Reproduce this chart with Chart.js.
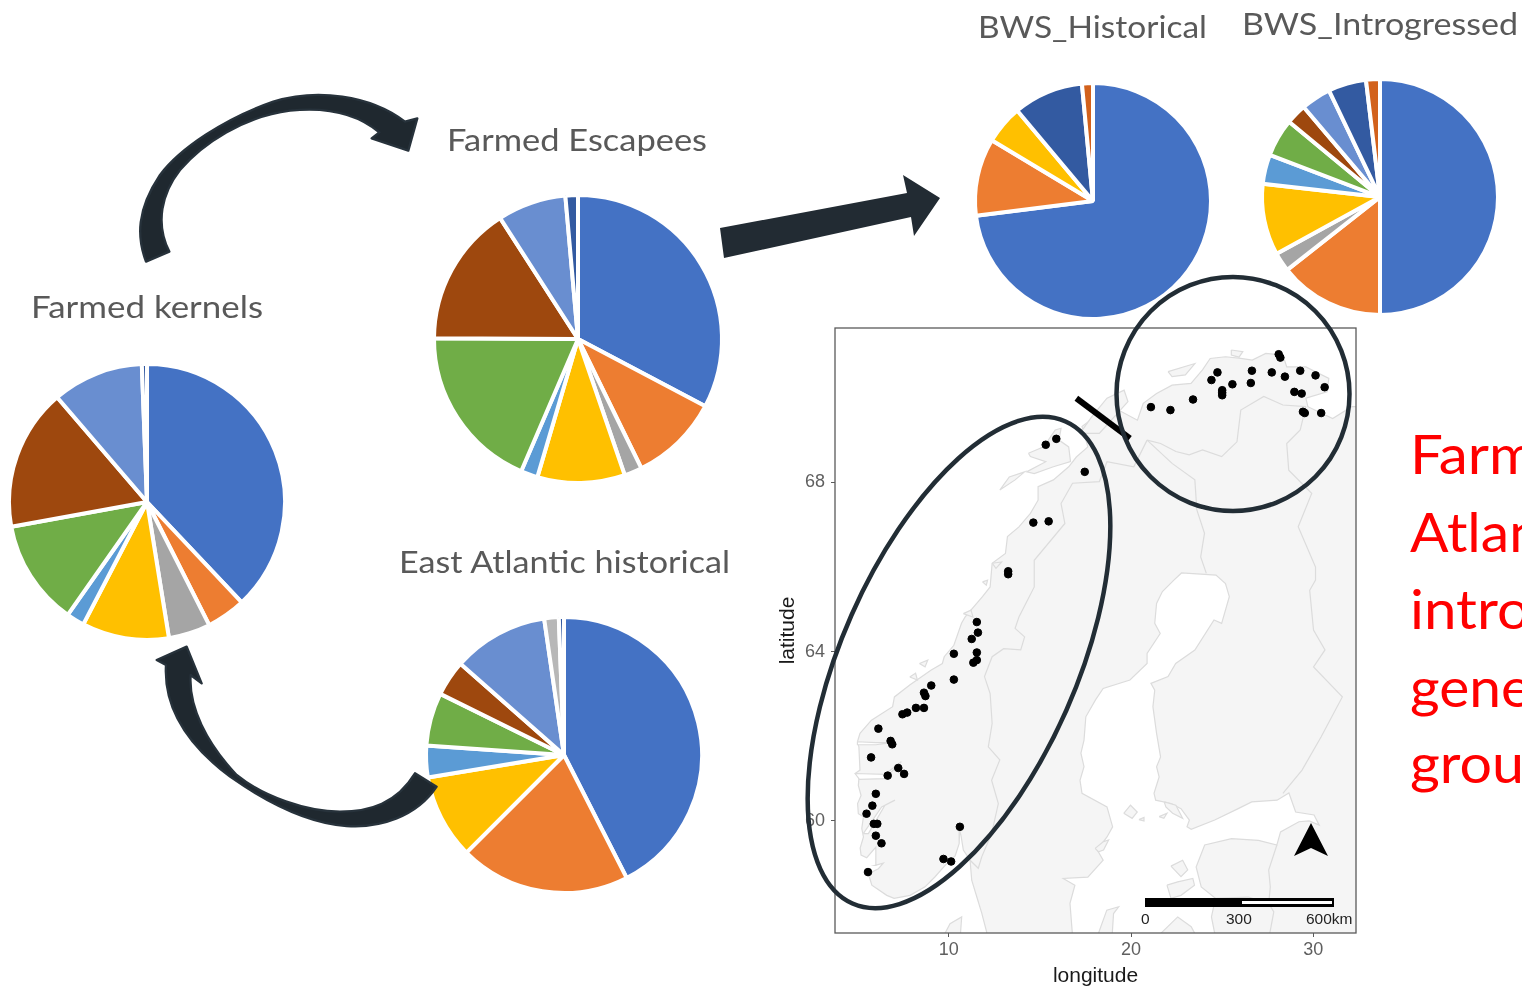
<!DOCTYPE html>
<html>
<head>
<meta charset="utf-8">
<title>Farmed and wild salmon ancestry</title>
<script src="https://cdn.jsdelivr.net/npm/chart.js@4"></script>
<style>
  html, body { margin: 0; padding: 0; width: 1522px; height: 989px; overflow: hidden; background: #fff; }
  canvas { position: absolute; }
  #notes { position: absolute; left: 0; top: 0; }
  #notes text.title { font-family: Lato, sans-serif; font-size: 31px; fill: #595959; }
  #notes text.red { font-family: Lato, sans-serif; font-size: 55px; fill: #ff0000; }
  #notes text.scale { font-family: "Liberation Sans", sans-serif; font-size: 15.5px; fill: #222; }
</style>
</head>
<body>
<canvas id="kernels"></canvas>
<canvas id="escapees"></canvas>
<canvas id="eastAtlantic"></canvas>
<canvas id="bwsHistorical"></canvas>
<canvas id="bwsIntrogressed"></canvas>
<canvas id="map" width="600" height="669" style="left:770px;top:320px"></canvas>

<svg id="notes" width="1522" height="989" xmlns="http://www.w3.org/2000/svg">
  <text class="title" x="31" y="318" textLength="232" lengthAdjust="spacingAndGlyphs">Farmed kernels</text>
  <text class="title" x="447" y="151" textLength="260" lengthAdjust="spacingAndGlyphs">Farmed Escapees</text>
  <text class="title" x="399" y="573" textLength="331" lengthAdjust="spacingAndGlyphs">East Atlantic historical</text>
  <text class="title" x="978" y="38" textLength="229" lengthAdjust="spacingAndGlyphs">BWS_Historical</text>
  <text class="title" x="1242" y="35" textLength="276" lengthAdjust="spacingAndGlyphs">BWS_Introgressed</text>

  <text class="red" x="1410" y="474" textLength="127" lengthAdjust="spacingAndGlyphs">Farm</text>
  <text class="red" x="1410" y="552" textLength="131" lengthAdjust="spacingAndGlyphs">Atlan</text>
  <text class="red" x="1410" y="629" textLength="120" lengthAdjust="spacingAndGlyphs">intro</text>
  <text class="red" x="1410" y="707" textLength="121" lengthAdjust="spacingAndGlyphs">gene</text>
  <text class="red" x="1410" y="783" textLength="114" lengthAdjust="spacingAndGlyphs">grou</text>

  <!-- arrows -->
  <polygon points="720,228 907,193 903,175 940,198 914,236 911,217 724,258" fill="#222b33"/>
  <g transform="translate(130,80) scale(0.3333)" fill="#1f282f" stroke="#27323b" stroke-width="7" stroke-linejoin="round">
    <path d="M48,545 C20,470 20,390 90,285 C150,205 285,115 430,65 C560,25 720,45 825,125 L862,115 L835,212 L725,175 L748,157 C680,100 590,80 480,92 C340,110 220,190 150,270 C95,340 75,430 118,515 Z"/>
  </g>
  <g transform="translate(150,640) scale(0.3333)" fill="#1f282f" stroke="#27323b" stroke-width="7" stroke-linejoin="round">
    <path d="M20,60 L110,20 L155,130 L122,105 C115,200 170,310 260,405 C340,470 470,515 570,515 C660,515 740,490 795,400 L860,440 C800,530 690,565 590,558 C470,550 340,480 240,410 C120,320 40,210 48,75 Z"/>
  </g>

  <!-- groupings on the map -->
  <ellipse cx="959" cy="662.5" rx="117.5" ry="263.5" transform="rotate(23.85 959 662.5)" fill="none" stroke="#222d35" stroke-width="4.5"/>
  <ellipse cx="1233" cy="394" rx="116.5" ry="117" fill="none" stroke="#222d35" stroke-width="4.5"/>

  <!-- scale bar and north arrow -->
  <rect x="1145" y="898" width="189" height="9" fill="#000"/>
  <rect x="1242" y="901" width="90" height="3" fill="#fff"/>
  <text class="scale" x="1141" y="924">0</text>
  <text class="scale" x="1226" y="924">300</text>
  <text class="scale" x="1306" y="924">600km</text>
  <polygon points="1311,823 1294,856 1311,848 1328,856" fill="#000"/>
</svg>

<script>
const ancestryGroups = ['K1', 'K2', 'K3', 'K4', 'K5', 'K6', 'K7', 'K8', 'K9', 'K10', 'K11'];
const groupColors = ['#4472c4', '#ed7d31', '#a5a5a5', '#ffc000', '#5b9bd5', '#70ad47', '#9e480e', '#698ed0', '#b7b7b7', '#335aa1', '#d2611c'];

const kernelsValues = [38.0, 4.6, 4.9, 10.2, 2.1, 12.4, 16.6, 10.7, 0, 0.6, 0];
const escapeesValues = [32.7, 10.0, 2.0, 9.8, 1.9, 18.6, 15.8, 7.7, 0, 1.4, 0];
const eastAtlanticValues = [42.5, 20.0, 0, 9.9, 3.7, 6.2, 4.2, 11.2, 1.7, 0.6, 0];
const bwsHistoricalValues = [73.0, 10.6, 0, 5.3, 0, 0, 0, 0, 0, 9.6, 1.5];
const bwsIntrogressedValues = [50.0, 14.4, 2.6, 9.8, 4.0, 5.2, 2.8, 4.1, 0, 5.2, 1.9];

// sampled rivers, longitude and latitude
const riverLon = [21.09, 22.16, 23.40, 24.41, 24.74, 25.00, 25.00, 25.00, 25.56, 26.57, 26.63, 27.72, 28.10, 28.19, 28.44, 29.28, 30.12, 30.62, 28.96, 29.36, 29.43, 29.53, 30.43,
  15.90, 15.32, 17.46, 14.64, 15.48, 13.26, 13.26, 11.54, 11.60, 11.26, 10.28, 11.54, 11.54, 11.35, 10.28, 9.04, 8.64, 8.72, 8.20, 8.64, 7.72, 7.46, 6.14, 6.81, 6.90, 5.74, 7.23, 7.55, 6.65, 6.00, 5.81, 5.49, 5.89, 6.08, 6.00, 6.31, 10.61, 9.71, 10.13, 5.57];
const riverLat = [69.78, 69.71, 69.96, 70.42, 70.60, 70.18, 70.12, 70.06, 70.32, 70.35, 70.64, 70.60, 71.03, 70.95, 70.50, 70.64, 70.53, 70.25, 70.14, 70.10, 69.67, 69.64, 69.64,
  69.03, 68.89, 68.25, 67.05, 67.08, 65.90, 65.83, 64.70, 64.45, 64.30, 63.95, 63.98, 63.80, 63.74, 63.34, 63.20, 63.03, 62.95, 62.67, 62.67, 62.56, 62.52, 62.18, 61.89, 61.81, 61.50, 61.25, 61.11, 61.07, 60.64, 60.36, 60.17, 59.93, 59.93, 59.65, 59.47, 59.86, 59.10, 59.04, 58.79];

const lonTicks = [10, 20, 30];
const latTicks = [60, 64, 68];

// outlines as [longitude, latitude]
const mainland = [
  [12.08, 57.2], [12.08, 57.37], [11.81, 57.82], [11.54, 58.20], [11.26, 58.60], [11.17, 59.07], [10.80, 59.31], [10.67, 59.66], [10.60, 59.78], [10.57, 59.46], [10.35, 59.17],
  [9.80, 58.95], [9.25, 58.68], [8.70, 58.44], [7.88, 58.24], [7.0, 58.17], [6.6, 58.24], [5.78, 58.48], [5.59, 58.75], [6.14, 58.87], [6.41, 59.0], [5.96, 58.95], [6.0, 59.38],
  [5.5, 59.13], [5.19, 59.19], [5.14, 59.36], [5.32, 59.62], [5.23, 59.82], [5.32, 60.1], [5.04, 60.17], [5.0, 60.41], [5.19, 60.6], [5.04, 60.84], [5.08, 61.04], [4.86, 61.12],
  [5.13, 61.2], [5.07, 61.75], [4.99, 61.87], [5.13, 62.07], [5.76, 62.38], [6.92, 62.70], [7.02, 62.93], [7.86, 63.21], [9.02, 63.56], [9.65, 63.72], [9.75, 63.88], [10.28, 64.15],
  [10.7, 64.67], [10.9, 64.82], [11.85, 65.3], [12.27, 65.53], [12.38, 66.09], [13.11, 66.32], [13.22, 66.72], [13.85, 66.95], [14.48, 67.27], [14.9, 67.58], [14.9, 67.9],
  [15.74, 68.06], [16.58, 68.37], [17.0, 68.6], [17.63, 68.84], [17.31, 69.32], [18.26, 69.63], [19.31, 69.71], [20.35, 69.47], [20.67, 69.87], [21.4, 70.1], [22.25, 70.3],
  [23.29, 70.34], [23.92, 70.66], [24.34, 70.93], [25.18, 70.97], [26.02, 70.93], [26.65, 70.89], [27.39, 71.05], [28.33, 71.01], [28.54, 70.73], [29.59, 70.73], [30.85, 70.46],
  [30.75, 70.14], [29.59, 69.99], [29.7, 69.79], [31.06, 69.51], [32.1, 69.79], [33.5, 69.8], [33.5, 57.2], [24.59, 57.2], [24.59, 57.34], [24.41, 57.73], [24.63, 58.17], [23.85, 58.44],
  [23.57, 58.91], [24.04, 59.43], [25.51, 59.58], [26.99, 59.54], [28.0, 59.43], [28.2, 59.74], [29.21, 59.98], [29.77, 60.0], [30.32, 59.9], [30.04, 60.14], [29.03, 60.21],
  [28.66, 60.66], [28.01, 60.49], [26.62, 60.45], [25.88, 60.29], [24.59, 60.02], [23.3, 59.8], [23.07, 59.86], [23.2, 60.02], [22.74, 60.29], [22.19, 60.41], [21.35, 60.49],
  [21.26, 60.65], [21.54, 61.04], [21.4, 61.28], [21.62, 61.51], [21.4, 62.07], [21.2, 62.7], [21.3, 63.09], [21.09, 63.25], [22.03, 63.41], [22.45, 63.72], [23.5, 64.04],
  [24.55, 64.75], [24.97, 64.67], [25.39, 65.3], [25.18, 65.61], [24.66, 65.81], [22.77, 65.86], [22.35, 65.69], [21.72, 65.42], [21.4, 65.14], [21.3, 64.67], [21.6, 64.43],
  [20.88, 63.96], [20.88, 63.72], [19.94, 63.33], [18.47, 63.13], [18.05, 62.86], [17.52, 62.46], [17.42, 61.91], [17.25, 61.6], [17.42, 61.28], [17.2, 60.96], [17.31, 60.65],
  [18.68, 60.33], [18.99, 59.86], [18.68, 59.62], [18.15, 59.31], [18.47, 59.07], [17.63, 58.67], [16.28, 58.64], [16.92, 58.48], [16.65, 58.05], [16.78, 57.34], [16.78, 57.2]
];
const islands = [
  [[22.19, 58.93], [22.83, 59.07], [23.11, 58.84], [22.74, 58.68]],
  [[21.97, 58.48], [22.56, 58.56], [23.39, 58.64], [23.48, 58.48], [22.74, 58.24], [22.19, 58.17]],
  [[19.6, 60.18], [19.97, 60.37], [20.34, 60.21], [20.06, 60.06]],
  [[20.43, 60.03], [20.71, 60.08], [20.71, 60.0]],
  [[21.54, 60.1], [21.97, 60.18], [21.8, 60.06]],
  [[21.82, 60.45], [22.46, 60.37], [22.83, 60.06], [22.28, 60.18], [21.91, 60.33]],
  [[18.21, 57.2], [18.21, 57.34], [18.67, 57.89], [19.32, 57.97], [19.04, 57.81], [18.95, 57.2]],
  [[18.03, 59.35], [18.49, 59.51], [18.77, 59.55], [18.49, 59.31], [18.21, 59.27]],
  [[21.63, 57.2], [21.63, 57.34], [22.56, 57.73], [23.3, 57.5], [23.67, 57.2]],
  [[9.79, 57.2], [9.79, 57.34], [10.07, 57.57], [10.71, 57.73], [10.62, 57.2]],
  [[12.8, 67.82], [13.32, 68.13], [14.16, 68.25], [13.64, 68.06]],
  [[14.37, 68.69], [15.21, 68.84], [15.84, 69.24], [16.16, 69.28], [16.05, 69.0], [16.58, 68.84], [16.68, 68.49], [15.74, 68.37], [14.69, 68.21], [14.27, 68.25], [15.32, 68.49], [14.48, 68.61]],
  [[17.2, 69.16], [17.84, 69.55], [18.68, 69.99], [19.62, 70.18], [19.83, 69.91], [18.26, 69.16]],
  [[22.03, 70.62], [23.5, 70.81], [22.98, 70.54], [22.25, 70.5]],
  [[25.5, 71.13], [26.13, 71.09], [25.92, 70.96], [25.5, 71.01]],
  [[7.86, 63.4], [8.18, 63.49], [8.28, 63.33]],
  [[8.39, 63.72], [8.85, 63.8], [8.7, 63.64]],
  [[11.85, 65.65], [12.13, 65.69], [12.06, 65.57]],
  [[10.8, 64.9], [11.22, 64.98], [11.33, 64.82]],
  [[12.38, 66.09], [12.9, 66.12], [12.59, 65.97]]
];
const fjords = [
  [[4.86, 61.12], [6.5, 61.1], [7.4, 61.4], [6.5, 61.0], [5.1, 60.98]],
  [[4.99, 61.87], [6.0, 61.85], [6.9, 61.85], [6.0, 61.8], [5.0, 61.8]],
  [[5.31, 59.7], [6.32, 60.33], [7.05, 60.49], [6.5, 60.37], [5.59, 59.7]]
];
const borders = [
  [[20.88, 69.0], [20.15, 68.37], [18.68, 68.49], [18.26, 68.02], [16.79, 67.98], [16.16, 67.5], [16.37, 67.03], [14.69, 66.16], [14.69, 65.53], [13.85, 64.82], [13.64, 64.55], [14.16, 64.35],
    [13.95, 64.04], [13.01, 64.07], [12.38, 63.88], [11.96, 63.41], [12.27, 63.01], [12.38, 62.3], [12.17, 61.75], [12.8, 61.44], [12.35, 60.96], [12.72, 60.41], [12.35, 59.7], [11.81, 59.15], [11.62, 58.88], [11.17, 59.07]],
  [[20.88, 69.0], [21.62, 68.92], [22.46, 68.73], [23.19, 68.65], [23.92, 68.77], [24.97, 68.61], [25.81, 68.96], [26.02, 69.71], [27.28, 70.03], [28.33, 69.83], [29.59, 69.79]],
  [[20.88, 69.0], [22.25, 68.45], [23.5, 68.06], [23.61, 67.35], [24.03, 66.8], [23.82, 66.24], [24.13, 65.85]],
  [[29.59, 69.79], [29.28, 69.24], [28.54, 68.92], [28.65, 68.29], [29.91, 67.74], [29.17, 66.95], [30.12, 66.0], [30.12, 65.69], [29.8, 65.45], [30.01, 64.51], [30.64, 64.04], [30.01, 63.64], [31.59, 62.93], [30.43, 61.99], [29.38, 61.2], [28.33, 60.65]],
  [[28.0, 59.43], [27.55, 58.84], [27.64, 58.44], [27.55, 58.05], [27.83, 57.85], [27.55, 57.2]],
  [[24.63, 58.17], [26.44, 58.2], [27.55, 58.05]]
];
const divideLine = [[17.0, 69.99], [19.94, 69.04]];

function makePie(id, values, cx, cy, radius) {
    const canvas = document.getElementById(id);
    const size = (radius + 6) * 2;
    canvas.width = size;
    canvas.height = size;
    canvas.style.left = (cx - size / 2) + 'px';
    canvas.style.top = (cy - size / 2) + 'px';
    new Chart(canvas, {
        type: 'pie',
        data: {
            labels: ancestryGroups,
            datasets: [{ data: values, backgroundColor: groupColors, borderColor: '#ffffff', borderWidth: 4 }]
        },
        options: {
            responsive: false,
            animation: false,
            radius: radius,
            plugins: { legend: { display: false }, tooltip: { enabled: false } }
        }
    });
}

makePie('kernels', kernelsValues, 147, 502, 138);
makePie('escapees', escapeesValues, 578, 339, 144);
makePie('eastAtlantic', eastAtlanticValues, 564, 755, 138);
makePie('bwsHistorical', bwsHistoricalValues, 1093, 201, 118);
makePie('bwsIntrogressed', bwsIntrogressedValues, 1380, 197, 118);

const toXY = pts => pts.map(p => ({ x: p[0], y: p[1] }));

function landSet(pts, fillColor, order) {
    return {
        data: toXY(pts.concat([pts[0]])),
        showLine: true,
        fill: 'shape',
        backgroundColor: fillColor,
        borderColor: '#dcdcdc',
        borderWidth: 1.2,
        pointRadius: 0,
        tension: 0,
        order: order
    };
}

const mapSets = [
    {
        data: riverLon.map((lon, i) => ({ x: lon, y: riverLat[i] })),
        backgroundColor: '#000000',
        borderColor: '#000000',
        pointRadius: 3.8,
        order: 0
    },
    { data: toXY(divideLine), showLine: true, borderColor: '#000000', borderWidth: 6, pointRadius: 0, order: 1 },
    landSet(mainland, '#f5f5f5', 6)
];
islands.forEach(i => mapSets.push(landSet(i, '#f5f5f5', 5)));
fjords.forEach(f => mapSets.push(landSet(f, '#ffffff', 4)));
borders.forEach(b => mapSets.push({ data: toXY(b), showLine: true, borderColor: '#dcdcdc', borderWidth: 1.2, pointRadius: 0, order: 3 }));

// panel border on all four sides
const panelBorder = {
    id: 'panelBorder',
    afterDraw(chart) {
        const { ctx, chartArea: a } = chart;
        ctx.save();
        ctx.strokeStyle = '#5a5a5a';
        ctx.lineWidth = 1.3;
        ctx.strokeRect(a.left, a.top, a.right - a.left, a.bottom - a.top);
        ctx.restore();
    }
};

new Chart(document.getElementById('map'), {
    type: 'scatter',
    data: { datasets: mapSets },
    plugins: [panelBorder],
    options: {
        responsive: false,
        animation: false,
        layout: { autoPadding: false, padding: { top: 8, right: 14, left: 0, bottom: 0 } },
        plugins: { legend: { display: false }, tooltip: { enabled: false } },
        scales: {
            x: {
                min: 3.76,
                max: 32.34,
                afterBuildTicks: axis => { axis.ticks = lonTicks.map(v => ({ value: v })); },
                afterFit: axis => { axis.height = 56; axis.paddingLeft = 0; axis.paddingRight = 0; },
                border: { display: false },
                grid: { drawOnChartArea: false, tickLength: 4, color: '#5a5a5a' },
                ticks: { color: '#5f5f5f', font: { family: 'Liberation Sans', size: 18 }, padding: 2, maxRotation: 0 },
                title: { display: true, text: 'longitude', color: '#1a1a1a', font: { family: 'Liberation Sans', size: 21 }, padding: { top: 0, bottom: 0 } }
            },
            y: {
                min: 57.35,
                max: 71.65,
                afterBuildTicks: axis => { axis.ticks = latTicks.map(v => ({ value: v })); },
                afterFit: axis => { axis.width = 65; axis.paddingTop = 0; axis.paddingBottom = 0; },
                border: { display: false },
                grid: { drawOnChartArea: false, tickLength: 4, color: '#5a5a5a' },
                ticks: { color: '#5f5f5f', font: { family: 'Liberation Sans', size: 18 }, padding: 6 },
                title: { display: true, text: 'latitude', color: '#1a1a1a', font: { family: 'Liberation Sans', size: 21 }, padding: { top: 6, bottom: 0 } }
            }
        }
    }
});
</script>
</body>
</html>
